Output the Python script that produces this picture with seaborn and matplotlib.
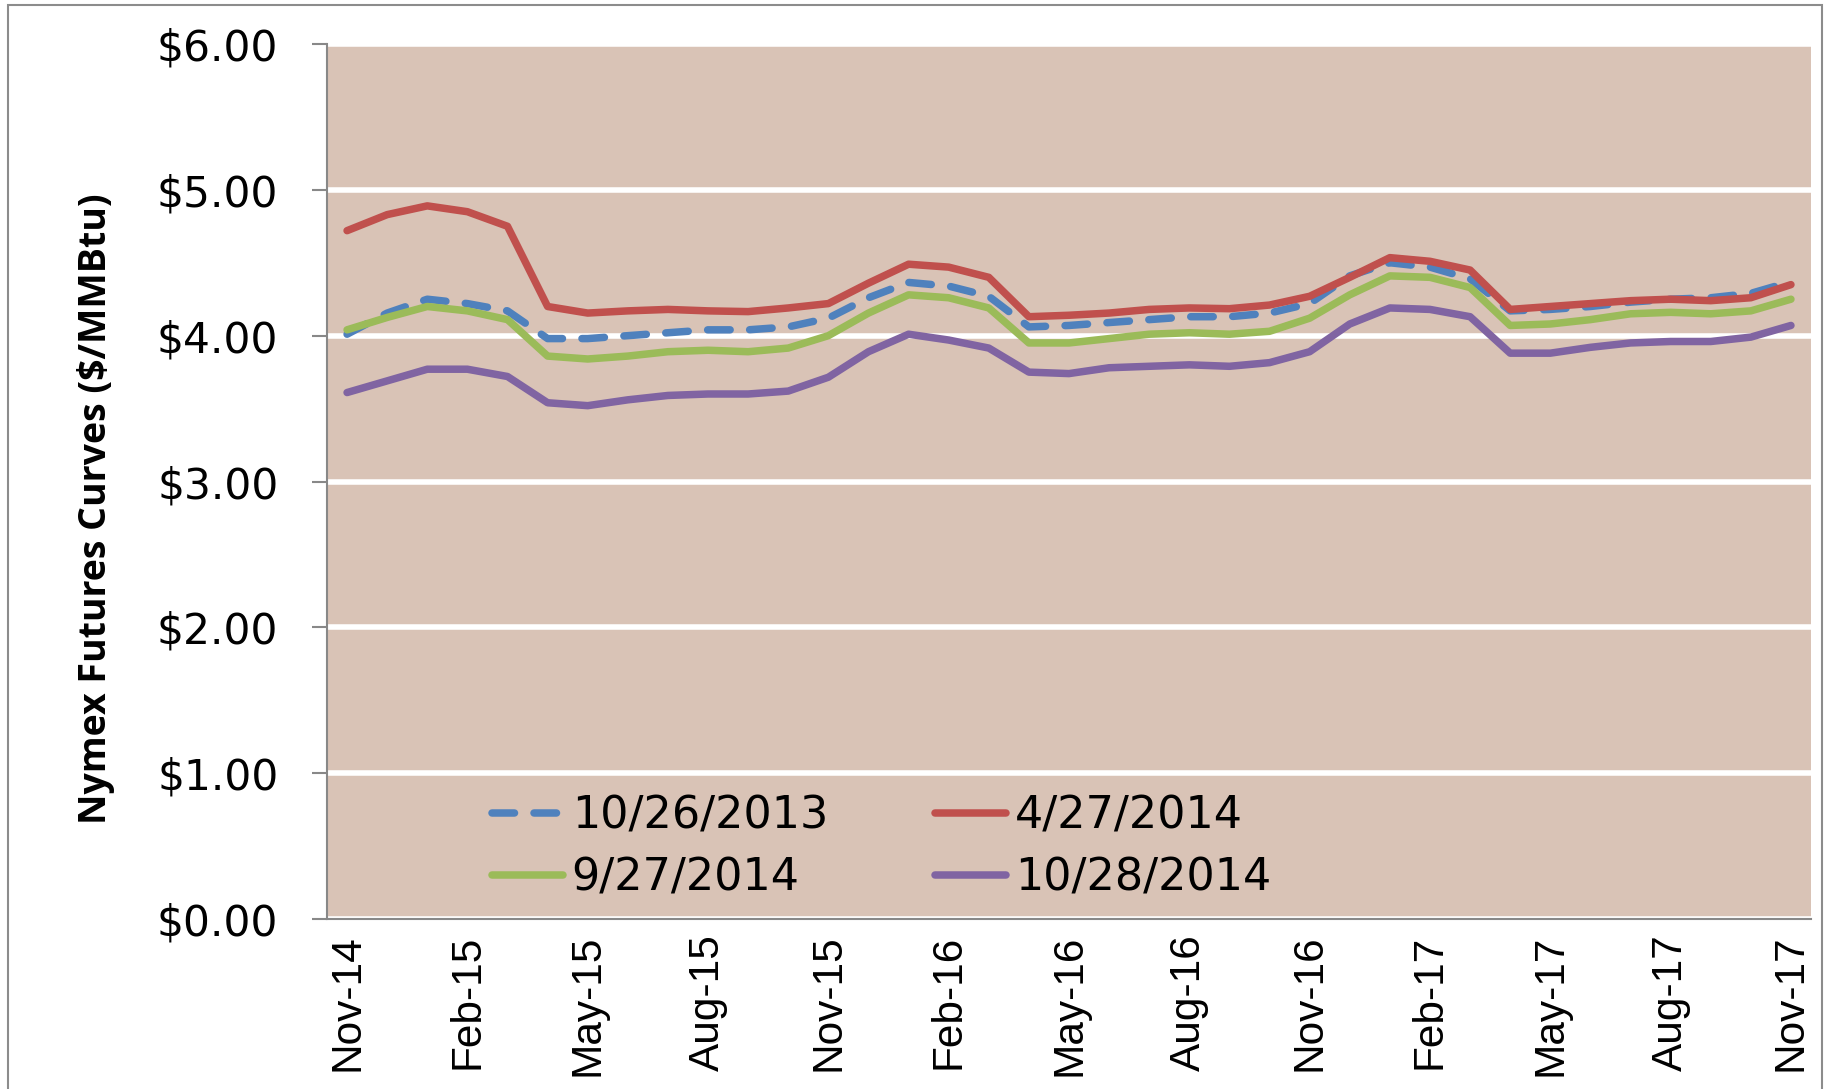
import pandas as pd
import numpy as np
import matplotlib.pyplot as plt
import seaborn as sns
from matplotlib.patches import Rectangle
from matplotlib.lines import Line2D

# Monthly contract months, Nov-14 .. Nov-17
months = pd.date_range('2014-11-01', periods=37, freq='MS').strftime('%b-%y').tolist()
tick_labels = ['Nov-14', 'Feb-15', 'May-15', 'Aug-15', 'Nov-15', 'Feb-16', 'May-16',
               'Aug-16', 'Nov-16', 'Feb-17', 'May-17', 'Aug-17', 'Nov-17']

series_names = ['10/26/2013', '4/27/2014', '9/27/2014', '10/28/2014']

curve_2013_10_26 = [4.01, 4.155, 4.25, 4.22, 4.17, 3.98, 3.98, 4.00, 4.02, 4.04, 4.04, 4.06, 4.12,
                    4.26, 4.365, 4.34, 4.27, 4.06, 4.07, 4.09, 4.11, 4.13, 4.13, 4.155, 4.22,
                    4.41, 4.50, 4.47, 4.39, 4.17, 4.18, 4.20, 4.23, 4.25, 4.26, 4.29, 4.37]
curve_2014_04_27 = [4.72, 4.83, 4.89, 4.85, 4.75, 4.20, 4.155, 4.17, 4.18, 4.17, 4.165, 4.19, 4.22,
                    4.36, 4.49, 4.47, 4.40, 4.13, 4.14, 4.155, 4.18, 4.19, 4.185, 4.21, 4.27,
                    4.40, 4.535, 4.51, 4.45, 4.18, 4.20, 4.22, 4.24, 4.25, 4.24, 4.26, 4.35]
curve_2014_09_27 = [4.04, 4.125, 4.20, 4.17, 4.11, 3.86, 3.84, 3.86, 3.89, 3.90, 3.89, 3.915, 4.00,
                    4.155, 4.28, 4.26, 4.19, 3.95, 3.95, 3.98, 4.01, 4.02, 4.01, 4.03, 4.12,
                    4.28, 4.41, 4.40, 4.33, 4.07, 4.08, 4.11, 4.15, 4.16, 4.15, 4.17, 4.25]
curve_2014_10_28 = [3.61, 3.69, 3.77, 3.77, 3.72, 3.54, 3.52, 3.56, 3.59, 3.60, 3.60, 3.62, 3.715,
                    3.89, 4.01, 3.97, 3.915, 3.75, 3.74, 3.78, 3.79, 3.80, 3.79, 3.815, 3.89,
                    4.08, 4.19, 4.18, 4.13, 3.88, 3.88, 3.92, 3.95, 3.96, 3.96, 3.99, 4.07]

colors = {'10/26/2013': '#4F81BD', '4/27/2014': '#C0504D',
          '9/27/2014': '#9BBB59', '10/28/2014': '#8064A2'}

LW = 5.4

# long-form table for seaborn
frames = []
for name, vals in zip(series_names, [curve_2013_10_26, curve_2014_04_27,
                                     curve_2014_09_27, curve_2014_10_28]):
    frames.append(pd.DataFrame({'idx': np.arange(len(months)), 'month': months,
                                'price': vals, 'curve': name}))
df = pd.concat(frames, ignore_index=True)

sns.set_style('white')
plt.rcParams['font.family'] = ['DejaVu Sans']
plt.rcParams['text.color'] = 'black'
plt.rcParams['xtick.color'] = 'black'
plt.rcParams['ytick.color'] = 'black'
plt.rcParams['axes.labelcolor'] = 'black'

fig = plt.figure(figsize=(18.33, 10.89), dpi=100)
ax = fig.add_axes([0.1784, 0.1561, 0.988 - 0.1784, 0.9596 - 0.1561])
ax.set_facecolor('#D9C3B6')

dash_map = {'10/26/2013': (3.0, 2.6), '4/27/2014': '', '9/27/2014': '', '10/28/2014': ''}
sns.lineplot(data=df, x='idx', y='price', hue='curve', style='curve',
             hue_order=series_names, style_order=series_names,
             palette=colors, dashes=dash_map, ax=ax, legend=False)
for ln in ax.get_lines():
    ln.set_linewidth(LW)
    ln.set_dash_capstyle('round')
    ln.set_solid_capstyle('round')

ax.set_xlim(-0.5, 36.5)
ax.set_ylim(0, 6)
ax.set_yticks(np.arange(0, 7, 1))
ax.set_yticklabels([f'${v:.2f}' for v in range(7)], fontsize=30.5)
ax.yaxis.grid(True, color='white', linewidth=4)
ax.xaxis.grid(False)
ax.set_axisbelow(True)

# labels centred on data months, tick marks on month boundaries
ax.set_xticks(np.arange(0, 37, 3))
ax.set_xticklabels(tick_labels, rotation=90, fontsize=30.5, family='Liberation Sans')
ax.set_xticks(np.arange(-0.5, 37, 3), minor=True)
ax.tick_params(axis='x', which='major', length=0, pad=11)
ax.tick_params(axis='x', which='minor', length=10, width=1.5, color='#888888', direction='out')
ax.tick_params(axis='y', length=11, width=1.5, color='#888888', labelcolor='black',
               direction='out', pad=24, left=True)

for s in ['top', 'right']:
    ax.spines[s].set_visible(False)
for s in ['left', 'bottom']:
    ax.spines[s].set_color('#888888')
    ax.spines[s].set_linewidth(1.5)

ax.set_xlabel('')
ax.set_ylabel('Nymex Futures Curves ($/MMBtu)', fontsize=27, fontweight='bold',
              family='Open Sans', color='black')
ax.yaxis.set_label_coords(-0.143, 0.469)

handles = []
for name in [series_names[0], series_names[2], series_names[1], series_names[3]]:
    ls = (0, (3.0, 2.6)) if name == '10/26/2013' else '-'
    handles.append(Line2D([], [], color=colors[name], linewidth=LW, linestyle=ls,
                          dash_capstyle='round', solid_capstyle='round', label=name))
ax.legend(handles=handles, ncol=2, frameon=False, fontsize=32,
          loc='center left', bbox_to_anchor=(0.096, 0.082),
          borderpad=0, handlelength=1.6, handletextpad=0.2,
          columnspacing=2.4, labelspacing=0.42)

fig.patches.append(Rectangle((8 / 1833, -0.01), 1822 / 1833 - 8 / 1833, 1.01 - 5 / 1089,
                             transform=fig.transFigure, fill=False,
                             edgecolor='#8c8c8c', linewidth=1.5))

fig.savefig('out.png', dpi=100)
